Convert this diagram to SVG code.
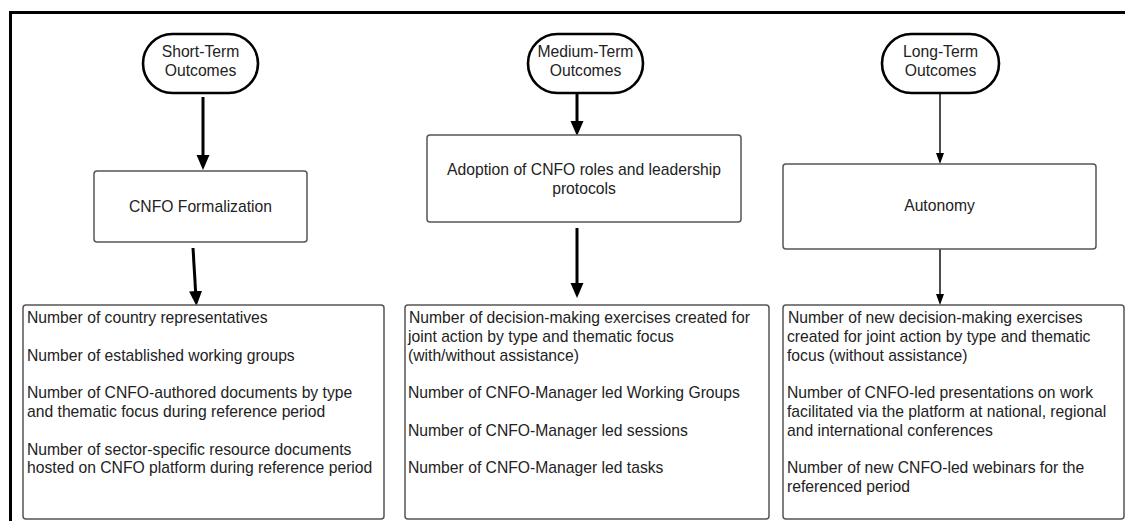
<svg xmlns="http://www.w3.org/2000/svg" width="1125" height="521" viewBox="0 0 1125 521">
<style>
  text { font-family: "Liberation Sans", Arial, sans-serif; font-size: 15.7px; fill: #222; }
  .c { text-anchor: middle; }
  .pill { fill: #fff; stroke: #000; stroke-width: 2.6; }
  .box { fill: #fff; stroke: #555; stroke-width: 1.5; }
  .frame { fill: none; stroke: #000; stroke-width: 3; }
  .thick { stroke: #000; stroke-width: 3; fill: none; }
  .thin { stroke: #000; stroke-width: 1.4; fill: none; }
</style>
<defs>
  <marker id="ah" markerUnits="userSpaceOnUse" markerWidth="16" markerHeight="14" refX="7" refY="7" orient="auto">
    <path d="M0,0.5 L15,7 L0,13.5 z" fill="#000"/>
  </marker>
  <marker id="ahs" markerUnits="userSpaceOnUse" markerWidth="12" markerHeight="9" refX="6" refY="4.5" orient="auto">
    <path d="M0,0.5 L11,4.5 L0,8.5 z" fill="#000"/>
  </marker>
</defs>
<rect width="1125" height="521" fill="#fff"/>
<path class="frame" d="M10.5,521 L10.5,12.5 L1125,12.5"/>

<g id="connectors">
  <line class="thick" x1="203" y1="97" x2="203" y2="162" marker-end="url(#ah)"/>
  <line class="thick" x1="193" y1="248" x2="196" y2="298" marker-end="url(#ah)"/>
  <line class="thick" x1="577" y1="93" x2="577" y2="128" marker-end="url(#ah)"/>
  <line class="thick" x1="577" y1="228" x2="577" y2="290" marker-end="url(#ah)"/>
  <line class="thin" x1="940" y1="93" x2="940" y2="159" marker-end="url(#ahs)"/>
  <line class="thin" x1="940" y1="249" x2="940" y2="300" marker-end="url(#ahs)"/>
</g>

<g id="short-term">
  <rect class="pill" x="143" y="34" width="115" height="59" rx="29.5"/>
  <text class="c" x="200.5" y="57">Short-Term</text>
  <text class="c" x="200.5" y="75.5">Outcomes</text>
</g>
<g id="medium-term">
  <rect class="pill" x="528" y="34" width="115" height="59" rx="29.5"/>
  <text class="c" x="585.5" y="57">Medium-Term</text>
  <text class="c" x="585.5" y="75.5">Outcomes</text>
</g>
<g id="long-term">
  <rect class="pill" x="882" y="34" width="117" height="59" rx="29.5"/>
  <text class="c" x="940.5" y="57">Long-Term</text>
  <text class="c" x="940.5" y="75.5">Outcomes</text>
</g>

<g id="cnfo-formalization">
  <rect class="box" x="94" y="171" width="213" height="71" rx="3"/>
  <text class="c" x="200.5" y="211.5">CNFO Formalization</text>
</g>
<g id="adoption">
  <rect class="box" x="427" y="135" width="314" height="87" rx="3"/>
  <text class="c" x="584" y="175">Adoption of CNFO roles and leadership</text>
  <text class="c" x="584" y="194">protocols</text>
</g>
<g id="autonomy">
  <rect class="box" x="783" y="164" width="313" height="85" rx="3"/>
  <text class="c" x="939.5" y="210.5">Autonomy</text>
</g>

<g id="short-indicators">
  <rect class="box" x="23" y="305" width="361" height="214" rx="3"/>
  <text x="27" y="323">Number of country representatives</text>
  <text x="27" y="360.6">Number of established working groups</text>
  <text x="27" y="398.2">Number of CNFO-authored documents by type</text>
  <text x="27" y="417">and thematic focus during reference period</text>
  <text x="27" y="454.6">Number of sector-specific resource documents</text>
  <text x="27" y="473.4">hosted on CNFO platform during reference period</text>
</g>
<g id="medium-indicators">
  <rect class="box" x="405" y="305" width="364" height="214" rx="3"/>
  <text x="409" y="323">Number of decision-making exercises created for</text>
  <text x="408" y="341.8">joint action by type and thematic focus</text>
  <text x="408" y="360.6">(with/without assistance)</text>
  <text x="408" y="398.2">Number of CNFO-Manager led Working Groups</text>
  <text x="408" y="435.8">Number of CNFO-Manager led sessions</text>
  <text x="408" y="473.4">Number of CNFO-Manager led tasks</text>
</g>
<g id="long-indicators">
  <rect class="box" x="783" y="305" width="341" height="214" rx="3"/>
  <text x="788" y="323">Number of new decision-making exercises</text>
  <text x="787" y="341.8">created for joint action by type and thematic</text>
  <text x="787" y="360.6">focus (without assistance)</text>
  <text x="787" y="398.2">Number of CNFO-led presentations on work</text>
  <text x="787" y="417">facilitated via the platform at national, regional</text>
  <text x="787" y="435.8">and international conferences</text>
  <text x="787" y="473.4">Number of new CNFO-led webinars for the</text>
  <text x="787" y="492.2">referenced period</text>
</g>
</svg>
